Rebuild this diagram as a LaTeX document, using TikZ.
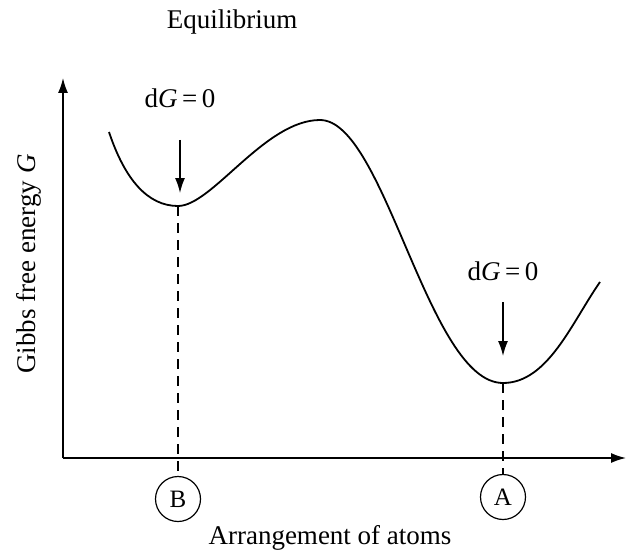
\documentclass[tikz,border=0pt]{standalone}
\usepackage{fontspec}
\setmainfont{Liberation Serif}
\usetikzlibrary{arrows.meta}
\begin{document}
\begin{tikzpicture}[x=1pt,y=-1pt,
  lbl/.style={font=\fontsize{27}{30}\selectfont, inner sep=0pt},
  axis/.style={line width=1.5pt, -{Latex[length=15pt,width=10pt]}},
  curve/.style={line width=1.8pt},
  guide/.style={line width=1.3pt, dash pattern=on 10pt off 7pt},
  marker/.style={line width=1.4pt, -{Latex[length=15pt,width=10pt]}},
  pt/.style={circle, draw, line width=1.2pt, minimum size=45pt, inner sep=0pt, font=\fontsize{25}{28}\selectfont}]
\useasboundingbox (0,0) rectangle (628,556);
% axes
\coordinate (O) at (63,458);
\coordinate (Ytop) at (63,78);
\coordinate (Xend) at (626,458);
\draw[axis] (O) -- (Ytop);
\draw[axis] (O) -- (Xend);
% curve
\coordinate (S) at (109,132);
\coordinate (MB) at (178,206);
\coordinate (P) at (320,120);
\coordinate (MA) at (503,383);
\coordinate (E) at (600,282);
\draw[curve] (S) .. controls (125,180) and (148,206) .. (MB)
  .. controls (212,206) and (265,120) .. (P)
  .. controls (385,120) and (428,383) .. (MA)
  .. controls (548,383) and (572,322) .. (E);
% points
\node[pt] (B) at (178,499) {B};
\node[pt] (A) at (503,497) {A};
\draw[guide] (MB) -- (B.north);
\draw[guide] (MA) -- (A.north);
% arrows and labels
\node[lbl] (lB) at (180,98) {d\textit{G}\,=\,0};
\node[lbl] (lA) at (503,271) {d\textit{G}\,=\,0};
\coordinate (aB1) at (180,140);
\coordinate (aB2) at (180,193);
\coordinate (aA1) at (503,302);
\coordinate (aA2) at (503,356);
\draw[marker] (aB1) -- (aB2);
\draw[marker] (aA1) -- (aA2);
\node[lbl] (eq) at (232,22) {Equilibrium};
\node[lbl] (xl) at (330,538) {Arrangement of atoms};
\node[lbl, rotate=90] (yl) at (29,264) {Gibbs free energy \textit{G}};
\end{tikzpicture}
\end{document}
